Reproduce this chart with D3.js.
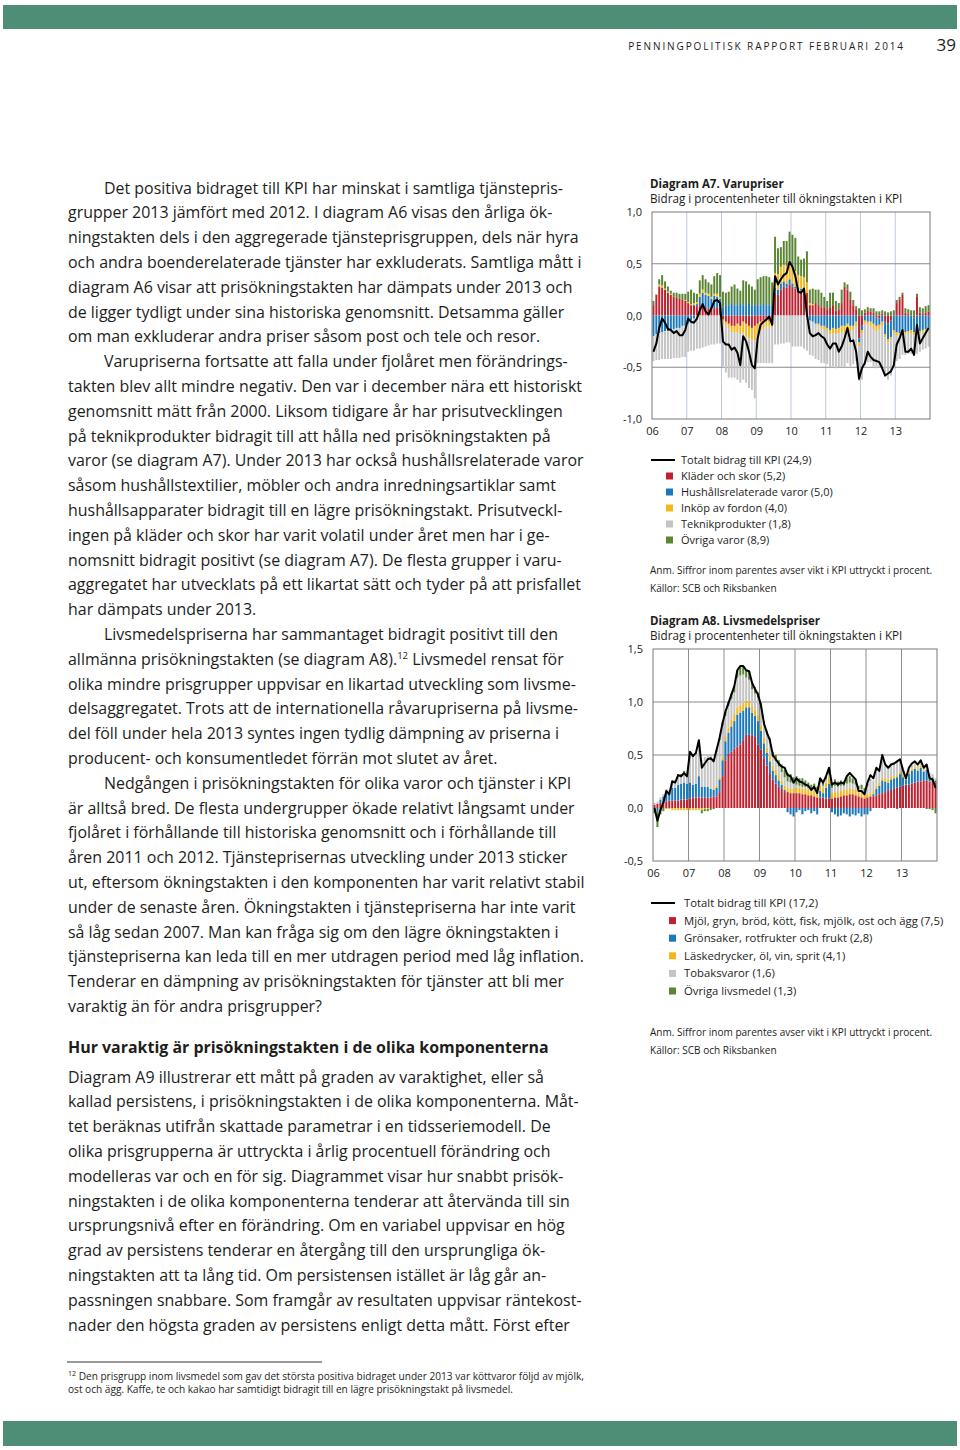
<!DOCTYPE html>
<html><head><meta charset="utf-8">
<script src="https://cdn.jsdelivr.net/npm/d3@7/dist/d3.min.js"></script>
<style>body{margin:0;background:#fff}svg{display:block}</style>
</head><body><svg id="page" width="960" height="1450"></svg>
<script>
// ---------- DATA ----------
const yearLabels = ["06","07","08","09","10","11","12","13"];

// Diagram A7 (monthly 2006-2013)
const a7Total = [
-0.35,-0.27,-0.12,-0.03,-0.07,-0.13,-0.14,-0.17,-0.15,-0.19,-0.19,-0.14,
-0.03,-0.06,-0.07,-0.03,0.05,0.11,0.04,0.01,0.07,0.14,0.15,0.12,
-0.25,-0.28,-0.28,-0.33,-0.31,-0.36,-0.48,-0.20,-0.25,-0.35,-0.48,-0.51,
-0.22,-0.09,-0.06,-0.04,-0.01,-0.09,0.38,0.30,0.35,0.39,0.41,0.52,
0.47,0.38,0.23,0.22,0.26,0.01,-0.17,-0.20,-0.19,-0.17,-0.20,-0.22,
-0.28,-0.32,-0.27,-0.27,-0.35,-0.30,-0.22,-0.12,-0.25,-0.24,-0.35,-0.61,
-0.51,-0.46,-0.35,-0.40,-0.43,-0.44,-0.45,-0.51,-0.58,-0.56,-0.54,-0.48,
-0.28,-0.22,-0.14,-0.35,-0.35,-0.32,-0.38,-0.09,-0.27,-0.22,-0.17,-0.12];
const a7Klader = [
0.10,0.20,0.28,0.27,0.25,0.22,0.20,0.18,0.17,0.16,0.15,0.14,
0.12,0.10,0.10,0.09,0.10,0.12,0.08,0.07,0.06,0.07,0.08,0.08,
-0.04,-0.06,-0.08,-0.10,-0.10,-0.08,-0.10,-0.06,-0.08,-0.10,-0.12,-0.10,
-0.08,-0.06,-0.05,-0.04,-0.05,-0.08,0.22,0.20,0.25,0.28,0.27,0.30,
0.28,0.26,0.25,0.24,0.25,0.22,0.10,0.10,0.12,0.10,0.08,0.08,
0.06,0.08,0.10,0.05,0.06,0.12,0.28,0.25,0.15,0.10,0.06,-0.22,
-0.10,0.03,0.05,0.04,0.03,-0.02,-0.03,0.02,-0.06,-0.08,-0.05,0.00,
0.12,0.15,0.20,0.03,0.02,0.00,-0.02,0.18,0.03,0.02,0.03,0.04];
const a7Hushall = [
-0.20,-0.18,-0.17,-0.16,-0.15,-0.15,-0.14,-0.13,-0.12,-0.12,-0.10,-0.10,
-0.08,-0.05,-0.03,0.02,0.08,0.10,0.12,0.12,0.10,0.12,0.10,0.08,
0.08,0.10,0.10,0.12,0.10,0.10,0.12,0.10,0.10,0.12,0.10,0.10,
0.10,0.10,0.12,0.10,0.10,0.10,0.05,0.05,0.06,0.05,0.04,0.05,
0.03,0.02,0.02,0.02,0.00,-0.02,-0.05,-0.06,-0.08,-0.08,-0.10,-0.10,
-0.12,-0.14,-0.12,-0.13,-0.12,-0.10,-0.10,-0.08,-0.10,-0.10,-0.06,-0.04,
-0.04,-0.05,-0.06,-0.06,-0.08,-0.08,-0.06,-0.06,-0.12,-0.15,-0.16,-0.14,
-0.16,-0.17,-0.16,-0.16,-0.15,-0.14,-0.14,-0.16,-0.15,-0.14,-0.13,-0.12];
const a7Fordon = [
0.00,0.01,0.02,0.02,0.01,0.01,0.01,0.00,0.00,0.00,0.00,0.01,
0.01,0.01,0.02,0.02,0.03,0.03,0.02,0.02,0.02,0.02,0.03,0.02,
-0.02,-0.03,-0.04,-0.06,-0.06,-0.08,-0.08,-0.10,-0.12,-0.12,-0.12,-0.14,
-0.10,-0.08,-0.08,-0.06,-0.05,-0.04,0.14,0.15,0.16,0.16,0.17,0.18,
0.16,0.15,0.12,0.12,0.12,0.10,0.02,0.01,0.00,-0.02,-0.03,-0.03,
-0.03,-0.04,-0.05,-0.05,-0.05,-0.06,-0.06,-0.05,-0.05,-0.04,-0.04,-0.04,
-0.03,-0.03,-0.03,-0.04,-0.05,-0.05,-0.04,-0.04,-0.03,-0.03,-0.03,-0.03,
-0.03,-0.03,-0.02,-0.02,-0.02,-0.03,-0.03,-0.03,-0.02,-0.02,-0.02,-0.02];
const a7Teknik = [
-0.24,-0.25,-0.26,-0.26,-0.27,-0.27,-0.28,-0.28,-0.29,-0.29,-0.30,-0.30,
-0.27,-0.29,-0.31,-0.32,-0.32,-0.31,-0.30,-0.29,-0.28,-0.28,-0.27,-0.27,
-0.43,-0.46,-0.48,-0.44,-0.44,-0.46,-0.47,-0.46,-0.45,-0.48,-0.48,-0.56,
-0.28,-0.32,-0.33,-0.36,-0.36,-0.34,-0.28,-0.28,-0.27,-0.27,-0.26,-0.26,
-0.30,-0.30,-0.30,-0.30,-0.32,-0.32,-0.33,-0.33,-0.34,-0.33,-0.33,-0.33,
-0.32,-0.32,-0.32,-0.33,-0.33,-0.33,-0.34,-0.33,-0.34,-0.33,-0.34,-0.33,
-0.45,-0.40,-0.36,-0.35,-0.36,-0.36,-0.37,-0.40,-0.38,-0.36,-0.34,-0.34,
-0.25,-0.22,-0.20,-0.20,-0.20,-0.20,-0.20,-0.18,-0.18,-0.17,-0.17,-0.16];
const a7Ovriga = [
0.04,0.00,0.05,0.10,0.07,0.05,0.03,0.04,0.05,0.05,0.06,0.06,
0.10,0.14,0.10,0.08,0.13,0.14,0.13,0.11,0.12,0.17,0.20,0.21,
0.15,0.12,0.13,0.16,0.20,0.16,0.12,0.24,0.23,0.18,0.18,0.15,
0.25,0.27,0.26,0.28,0.27,0.22,0.35,0.25,0.19,0.23,0.24,0.28,
0.31,0.32,0.18,0.16,0.18,0.30,0.13,0.15,0.13,0.15,0.14,0.10,
0.08,0.14,0.12,0.09,0.06,0.13,0.04,0.05,0.08,0.05,0.03,0.07,
0.05,0.03,0.03,0.03,0.04,0.04,0.04,0.03,0.04,0.03,0.04,0.05,
0.03,0.03,0.02,0.04,0.04,0.05,0.05,0.03,0.05,0.05,0.06,0.06];
const a7Names = ["Kläder och skor (5,2)","Hushållsrelaterade varor (5,0)","Inköp av fordon (4,0)","Teknikprodukter (1,8)","Övriga varor (8,9)"];
const a7TotalName = "Totalt bidrag till KPI (24,9)";
const a7Ticks = [1,0.5,0,-0.5,-1];

// Diagram A8 (monthly 2006-2013)
const a8Total = [
0.00,-0.12,-0.02,0.05,0.16,0.13,0.25,0.24,0.31,0.30,0.33,0.30,
0.53,0.49,0.52,0.64,0.38,0.42,0.46,0.47,0.44,0.55,0.66,0.80,
0.91,0.99,1.07,1.15,1.30,1.34,1.34,1.30,1.29,1.18,1.12,1.07,
0.97,0.80,0.71,0.64,0.50,0.46,0.42,0.39,0.38,0.31,0.30,0.24,
0.28,0.25,0.24,0.22,0.21,0.17,0.20,0.14,0.28,0.24,0.30,0.38,
0.22,0.24,0.22,0.24,0.23,0.30,0.33,0.30,0.27,0.16,0.16,0.13,
0.24,0.31,0.28,0.38,0.35,0.50,0.41,0.38,0.41,0.42,0.44,0.46,
0.36,0.28,0.38,0.42,0.44,0.41,0.45,0.38,0.41,0.28,0.27,0.19];
const a8Mjol = [
0.03,0.04,0.05,0.06,0.06,0.07,0.07,0.07,0.07,0.08,0.08,0.08,
0.09,0.10,0.10,0.10,0.10,0.10,0.10,0.10,0.11,0.11,0.15,0.30,
0.45,0.51,0.53,0.56,0.58,0.60,0.64,0.69,0.69,0.68,0.67,0.60,
0.55,0.47,0.40,0.32,0.27,0.23,0.20,0.18,0.15,0.15,0.14,0.14,
0.14,0.14,0.13,0.13,0.12,0.12,0.11,0.10,0.10,0.10,0.09,0.09,
0.09,0.10,0.10,0.11,0.12,0.12,0.13,0.13,0.12,0.11,0.10,0.09,
0.10,0.11,0.11,0.12,0.13,0.14,0.15,0.16,0.17,0.18,0.19,0.20,
0.21,0.22,0.22,0.23,0.24,0.25,0.25,0.26,0.26,0.25,0.25,0.24];
const a8Gronsaker = [
0.00,-0.03,0.03,0.05,0.10,0.08,0.12,0.12,0.15,0.15,0.16,0.15,
0.15,0.12,0.13,0.20,0.10,0.10,0.10,0.08,0.06,0.08,0.12,0.15,
0.18,0.20,0.24,0.26,0.30,0.30,0.28,0.26,0.26,0.22,0.20,0.22,
0.18,0.14,0.12,0.12,0.08,0.08,0.06,0.04,0.02,-0.04,-0.06,-0.08,
-0.04,-0.02,-0.06,-0.03,-0.02,-0.05,-0.03,-0.06,0.06,0.04,0.10,0.14,
-0.04,-0.06,-0.08,-0.07,-0.05,-0.06,-0.08,-0.06,-0.07,-0.05,-0.08,-0.06,
-0.06,-0.03,0.02,0.06,0.08,0.12,0.10,0.08,0.10,0.10,0.10,0.12,
0.08,0.05,0.10,0.12,0.13,0.10,0.13,0.08,0.10,0.05,0.04,0.02];
const a8Lask = [
0.00,0.00,0.00,0.00,-0.01,-0.01,-0.02,-0.02,-0.02,-0.02,-0.02,-0.02,
-0.02,-0.02,-0.02,-0.02,-0.02,-0.01,-0.01,0.00,0.01,0.02,0.02,0.03,
0.04,0.05,0.06,0.07,0.07,0.07,0.07,0.06,0.06,0.06,0.06,0.06,
0.05,0.05,0.05,0.05,0.05,0.05,0.05,0.04,0.04,0.04,0.04,0.04,
0.05,0.05,0.05,0.05,0.05,0.05,0.05,0.05,0.05,0.05,0.05,0.05,
0.05,0.05,0.05,0.05,0.05,0.05,0.05,0.05,0.05,0.04,0.04,0.04,
0.03,0.03,0.03,0.03,0.03,0.03,0.03,0.03,0.03,0.02,0.02,0.02,
0.02,0.02,0.02,0.02,0.02,0.02,0.02,0.01,0.01,0.01,0.01,0.01];
const a8Tobak = [
0.02,0.02,0.02,0.02,0.02,0.02,0.05,0.05,0.08,0.08,0.10,0.08,
0.28,0.26,0.28,0.30,0.25,0.28,0.30,0.32,0.28,0.32,0.35,0.30,
0.20,0.20,0.20,0.20,0.28,0.28,0.27,0.22,0.20,0.16,0.15,0.16,
0.16,0.12,0.12,0.13,0.08,0.08,0.08,0.08,0.08,0.06,0.06,0.05,
0.03,0.02,0.02,0.02,0.02,0.01,0.02,0.01,0.03,0.02,0.03,0.04,
0.05,0.06,0.05,0.05,0.04,0.06,0.06,0.05,0.05,0.03,0.04,0.03,
0.08,0.12,0.10,0.14,0.12,0.16,0.12,0.12,0.12,0.12,0.13,0.13,
0.05,0.02,0.04,0.04,0.05,0.04,0.05,0.03,0.04,0.02,0.02,0.01];
const a8Ovriga = [
-0.05,-0.15,-0.06,-0.03,0.00,0.00,0.02,0.02,0.02,0.01,0.01,0.01,
0.01,0.01,0.01,0.03,-0.03,-0.02,-0.02,-0.02,-0.01,0.02,0.02,0.02,
0.04,0.04,0.05,0.06,0.07,0.08,0.08,0.07,0.08,0.06,0.06,0.05,
0.05,0.04,0.04,0.04,0.05,0.06,0.06,0.07,0.07,0.08,0.08,0.06,
0.08,0.07,0.08,0.06,0.05,0.04,0.05,0.04,0.04,0.03,0.03,0.03,
0.05,0.06,0.05,0.05,0.04,0.06,0.06,0.05,0.05,0.03,0.04,0.03,
0.02,0.01,0.00,0.01,0.00,0.00,-0.01,0.00,0.00,0.00,-0.01,0.00,
0.00,0.00,0.00,0.00,0.00,0.00,0.00,0.00,-0.01,-0.01,-0.02,-0.05];
const a8Names = ["Mjöl, gryn, bröd, kött, fisk, mjölk, ost och ägg (7,5)","Grönsaker, rotfrukter och frukt (2,8)","Läskedrycker, öl, vin, sprit (4,1)","Tobaksvaror (1,6)","Övriga livsmedel (1,3)"];
const a8TotalName = "Totalt bidrag till KPI (17,2)";
const a8Ticks = [1.5,1,0.5,0,-0.5];

const seriesColors = ["#c0212e","#1c78bd","#f2b71b","#c4c4c4","#5a8532"];

// ---------- PAGE TEXT ----------
const bodyLines = [
 [1,"Det positiva bidraget till KPI har minskat i samtliga tjänstepris-"],
 [0,"grupper 2013 jämfört med 2012. I diagram A6 visas den årliga ök-"],
 [0,"ningstakten dels i den aggregerade tjänsteprisgruppen, dels när hyra"],
 [0,"och andra boenderelaterade tjänster har exkluderats. Samtliga mått i"],
 [0,"diagram A6 visar att prisökningstakten har dämpats under 2013 och"],
 [0,"de ligger tydligt under sina historiska genomsnitt. Detsamma gäller"],
 [0,"om man exkluderar andra priser såsom post och tele och resor."],
 [1,"Varupriserna fortsatte att falla under fjolåret men förändrings-"],
 [0,"takten blev allt mindre negativ. Den var i december nära ett historiskt"],
 [0,"genomsnitt mätt från 2000. Liksom tidigare år har prisutvecklingen"],
 [0,"på teknikprodukter bidragit till att hålla ned prisökningstakten på"],
 [0,"varor (se diagram A7). Under 2013 har också hushållsrelaterade varor"],
 [0,"såsom hushållstextilier, möbler och andra inredningsartiklar samt"],
 [0,"hushållsapparater bidragit till en lägre prisökningstakt. Prisutveckl-"],
 [0,"ingen på kläder och skor har varit volatil under året men har i ge-"],
 [0,"nomsnitt bidragit positivt (se diagram A7). De flesta grupper i varu-"],
 [0,"aggregatet har utvecklats på ett likartat sätt och tyder på att prisfallet"],
 [0,"har dämpats under 2013."],
 [1,"Livsmedelspriserna har sammantaget bidragit positivt till den"],
 [0,"allmänna prisökningstakten (se diagram A8).|12| Livsmedel rensat för"],
 [0,"olika mindre prisgrupper uppvisar en likartad utveckling som livsme-"],
 [0,"delsaggregatet. Trots att de internationella råvarupriserna på livsme-"],
 [0,"del föll under hela 2013 syntes ingen tydlig dämpning av priserna i"],
 [0,"producent- och konsumentledet förrän mot slutet av året."],
 [1,"Nedgången i prisökningstakten för olika varor och tjänster i KPI"],
 [0,"är alltså bred. De flesta undergrupper ökade relativt långsamt under"],
 [0,"fjolåret i förhållande till historiska genomsnitt och i förhållande till"],
 [0,"åren 2011 och 2012. Tjänsteprisernas utveckling under 2013 sticker"],
 [0,"ut, eftersom ökningstakten i den komponenten har varit relativt stabil"],
 [0,"under de senaste åren. Ökningstakten i tjänstepriserna har inte varit"],
 [0,"så låg sedan 2007. Man kan fråga sig om den lägre ökningstakten i"],
 [0,"tjänstepriserna kan leda till en mer utdragen period med låg inflation."],
 [0,"Tenderar en dämpning av prisökningstakten för tjänster att bli mer"],
 [0,"varaktig än för andra prisgrupper?"]
];
const heading = "Hur varaktig är prisökningstakten i de olika komponenterna";
const bodyLines2 = [
 "Diagram A9 illustrerar ett mått på graden av varaktighet, eller så",
 "kallad persistens, i prisökningstakten i de olika komponenterna. Måt-",
 "tet beräknas utifrån skattade parametrar i en tidsseriemodell. De",
 "olika prisgrupperna är uttryckta i årlig procentuell förändring och",
 "modelleras var och en för sig. Diagrammet visar hur snabbt prisök-",
 "ningstakten i de olika komponenterna tenderar att återvända till sin",
 "ursprungsnivå efter en förändring. Om en variabel uppvisar en hög",
 "grad av persistens tenderar en återgång till den ursprungliga ök-",
 "ningstakten att ta lång tid. Om persistensen istället är låg går an-",
 "passningen snabbare. Som framgår av resultaten uppvisar räntekost-",
 "nader den högsta graden av persistens enligt detta mått. Först efter"
];
const footLines = ["Den prisgrupp inom livsmedel som gav det största positiva bidraget under 2013 var köttvaror följd av mjölk,",
 "ost och ägg. Kaffe, te och kakao har samtidigt bidragit till en lägre prisökningstakt på livsmedel."];

// ---------- DRAW ----------
const svg = d3.select("#page");
const FONT = "'Open Sans', 'Noto Sans', sans-serif";
const TXT = "#1d1d1b";
const band = "#4e8e77";

svg.append("rect").attr("x",3).attr("y",5).attr("width",954).attr("height",24).attr("fill",band);
svg.append("rect").attr("x",3).attr("y",1421).attr("width",954).attr("height",25).attr("fill",band);
svg.append("text").attr("x",905).attr("y",50).attr("text-anchor","end")
  .attr("font-family",FONT).attr("font-size",10).attr("letter-spacing",1.9).attr("fill",TXT)
  .text("PENNINGPOLITISK RAPPORT FEBRUARI 2014");
svg.append("text").attr("x",956).attr("y",51).attr("text-anchor","end")
  .attr("font-family",FONT).attr("font-size",17).attr("fill",TXT).text("39");

// body text
const bodyG = svg.append("g").attr("font-family",FONT).attr("font-size",15.95).attr("fill",TXT);
bodyLines.forEach((l,i)=>{
  const t = bodyG.append("text").attr("x", l[0]?104:68).attr("y", 193.5 + i*24.8);
  const parts = l[1].split("|");
  if(parts.length===1){ t.text(l[1]); }
  else {
    t.append("tspan").text(parts[0]);
    t.append("tspan").attr("font-size",9.5).attr("dy",-6).text(parts[1]);
    t.append("tspan").attr("dy",6).text(parts[2]);
  }
});
bodyG.append("text").attr("x",68).attr("y",1052.5).attr("font-weight","bold").text(heading);
bodyLines2.forEach((l,i)=>{
  bodyG.append("text").attr("x",68).attr("y",1082.5 + i*24.8).text(l);
});
svg.append("line").attr("x1",67).attr("x2",322).attr("y1",1362).attr("y2",1362).attr("stroke","#333").attr("stroke-width",1);
const fg = svg.append("g").attr("font-family",FONT).attr("font-size",10.1).attr("fill",TXT);
const f1 = fg.append("text").attr("x",68).attr("y",1380);
f1.append("tspan").attr("font-size",7).attr("dy",-4).text("12");
f1.append("tspan").attr("dy",4).text(" "+footLines[0]);
fg.append("text").attr("x",68).attr("y",1393).text(footLines[1]);

function fmt(d){ return d3.format(".1f")(d).replace(".",",").replace("−","-"); }

function chart(cfg){
  const {x0,x1,y0,y1,domain,ticks,series,total,vgrid,hgridColor,hgridVals} = cfg;
  const n = total.length;
  const xb = d3.scaleBand().domain(d3.range(n)).range([x0,x1]).paddingInner(0.32).paddingOuter(0.16);
  const xl = d3.scaleLinear().domain([0,n]).range([x0,x1]);
  const y = d3.scaleLinear().domain(domain).range([y1,y0]);
  const g = svg.append("g");
  g.selectAll("line.v").data(d3.range(12,n,12)).join("line")
    .attr("x1",d=>xl(d)).attr("x2",d=>xl(d)).attr("y1",y0).attr("y2",y1)
    .attr("stroke",vgrid).attr("stroke-width",1);
  g.selectAll("line.h").data(hgridVals).join("line")
    .attr("x1",x0).attr("x2",x1).attr("y1",d=>y(d)).attr("y2",d=>y(d))
    .attr("stroke",hgridColor).attr("stroke-width",1);
  const keys = d3.range(series.length);
  const rows = d3.range(n).map(i=>{ const r={i}; keys.forEach(k=>r[k]=series[k][i]); return r; });
  const stacked = d3.stack().keys(keys).offset(d3.stackOffsetDiverging)(rows);
  stacked.forEach((s,k)=>{
    g.append("g").attr("fill",seriesColors[k]).selectAll("rect").data(s).join("rect")
      .attr("x",d=>xb(d.data.i)).attr("width",xb.bandwidth())
      .attr("y",d=>y(Math.max(d[0],d[1]))).attr("height",d=>Math.abs(y(d[0])-y(d[1])));
  });
  g.append("path").datum(total).attr("fill","none").attr("stroke","#000").attr("stroke-width",2)
    .attr("stroke-linejoin","round")
    .attr("d", d3.line().x((d,i)=>xl(i+0.5)).y(d=>y(d)));
  g.append("rect").attr("x",x0).attr("y",y0).attr("width",x1-x0).attr("height",y1-y0)
    .attr("fill","none").attr("stroke","#7a7a7a").attr("stroke-width",1);
  const ya = d3.axisLeft(y).tickValues(ticks).tickSize(0).tickPadding(10).tickFormat(fmt);
  const yg = svg.append("g").attr("transform",`translate(${x0},0)`).call(ya);
  yg.select(".domain").remove();
  yg.selectAll("text").attr("font-family",FONT).attr("font-size",11).attr("fill",TXT);
  const xa = d3.axisBottom(xl).tickValues(d3.range(0,n,12)).tickSize(0).tickPadding(8)
    .tickFormat((d,i)=>yearLabels[i]);
  const xg = svg.append("g").attr("transform",`translate(0,${y1})`).call(xa);
  xg.select(".domain").remove();
  xg.selectAll("text").attr("font-family",FONT).attr("font-size",11).attr("fill",TXT);
}

function titles(x,y,title,sub){
  svg.append("text").attr("x",x).attr("y",y).attr("font-family",FONT).attr("font-size",11.5)
    .attr("font-weight","bold").attr("fill",TXT).text(title);
  svg.append("text").attr("x",x).attr("y",y+15).attr("font-family",FONT).attr("font-size",11.7)
    .attr("fill",TXT).text(sub);
}
function legend(x,y,step,sqx,tx,fs,totalName,names){
  const g = svg.append("g").attr("font-family",FONT).attr("font-size",fs).attr("fill",TXT);
  g.append("line").attr("x1",x).attr("x2",x+24).attr("y1",y).attr("y2",y).attr("stroke","#000").attr("stroke-width",2);
  g.append("text").attr("x",tx).attr("y",y+4).text(totalName);
  names.forEach((nm,k)=>{
    const yy = y + step*(k+1);
    g.append("rect").attr("x",sqx).attr("y",yy-3.5).attr("width",7).attr("height",7).attr("fill",seriesColors[k]);
    g.append("text").attr("x",tx).attr("y",yy+4).text(nm);
  });
}
function notes(x,y){
  const g = svg.append("g").attr("font-family",FONT).attr("font-size",10.05).attr("fill",TXT);
  g.append("text").attr("x",x).attr("y",y).text("Anm. Siffror inom parentes avser vikt i KPI uttryckt i procent.");
  g.append("text").attr("x",x).attr("y",y+18).text("Källor: SCB och Riksbanken");
}

// Diagram A7
titles(650,188,"Diagram A7. Varupriser","Bidrag i procentenheter till ökningstakten i KPI");
chart({x0:652,x1:930,y0:212,y1:419,domain:[-1,1],ticks:a7Ticks,
  series:[a7Klader,a7Hushall,a7Fordon,a7Teknik,a7Ovriga],total:a7Total,
  vgrid:"#bccadb",hgridColor:"#8a8a8a",hgridVals:[0.5,-0.5]});
legend(651,460,16,666,681,11,a7TotalName,a7Names);
notes(650,574);

// Diagram A8
titles(650,625,"Diagram A8. Livsmedelspriser","Bidrag i procentenheter till ökningstakten i KPI");
chart({x0:653,x1:937,y0:649,y1:861,domain:[-0.5,1.5],ticks:a8Ticks,
  series:[a8Mjol,a8Gronsaker,a8Lask,a8Tobak,a8Ovriga],total:a8Total,
  vgrid:"#8f8f8f",hgridColor:"#8a8a8a",hgridVals:[1,0.5]});
legend(651,903,17.6,669,684,11.3,a8TotalName,a8Names);
notes(650,1036);
</script></body></html>
